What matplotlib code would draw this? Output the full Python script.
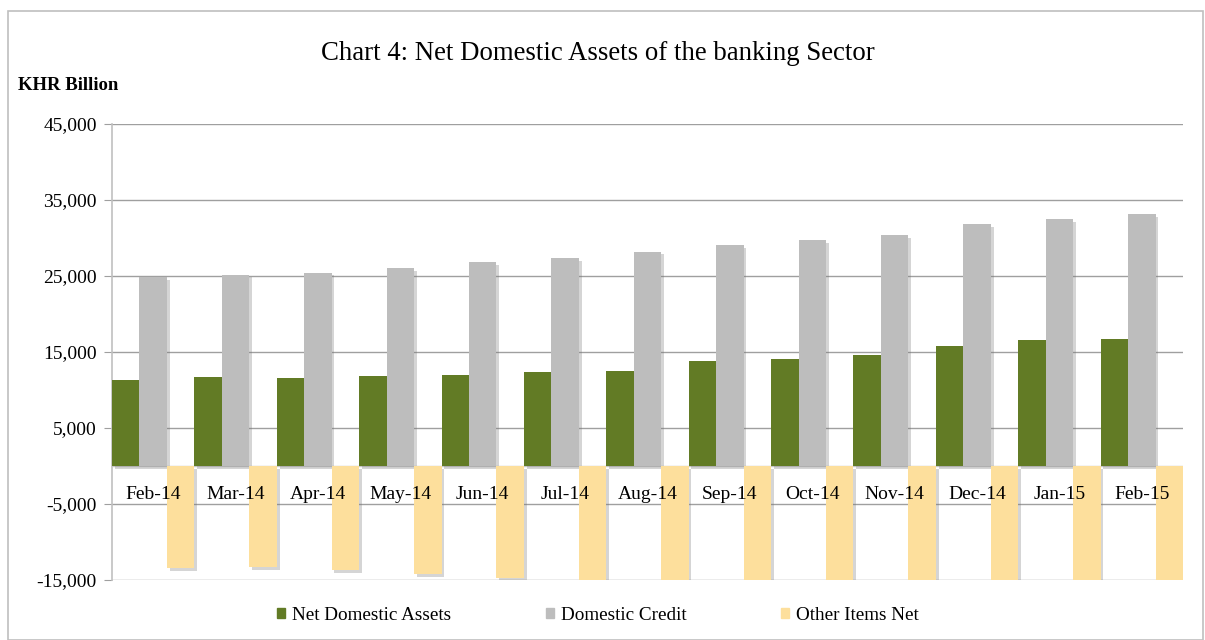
import numpy as np
import matplotlib
matplotlib.use("Agg")
import matplotlib.pyplot as plt
import matplotlib.patheffects as pe
from matplotlib.patches import Patch, Rectangle

plt.rcParams['font.family'] = ['Liberation Serif', 'DejaVu Serif']

# Data (KHR billion)
months = ["Feb-14", "Mar-14", "Apr-14", "May-14", "Jun-14", "Jul-14", "Aug-14",
          "Sep-14", "Oct-14", "Nov-14", "Dec-14", "Jan-15", "Feb-15"]
net_domestic_assets = [11370, 11680, 11590, 11810, 11950, 12340, 12470,
                       13820, 14120, 14560, 15740, 16560, 16690]
domestic_credit = [24870, 25180, 25450, 26050, 26800, 27330, 28210,
                   29040, 29700, 30360, 31840, 32460, 33120]
other_items_net = [-13410, -13330, -13720, -14200, -14720, -15050, -15740,
                   -15220, -15580, -15800, -16100, -15900, -16430]

green = "#627B25"
grey = "#BDBDBD"
yellow = "#FDDF9C"

fig = plt.figure(figsize=(12.05, 6.4), dpi=100)
ax = fig.add_axes([112 / 1205, 1 - 580 / 640, (1183 - 112) / 1205, 456 / 640])

x = np.arange(len(months))
w = 1 / 3
shadow = [pe.SimplePatchShadow(offset=(2, -2), shadow_rgbFace="#777777", alpha=0.3), pe.Normal()]

for vals, col, off in [(net_domestic_assets, green, -w), (domestic_credit, grey, 0), (other_items_net, yellow, w)]:
    bars = ax.bar(x + off, vals, width=w, color=col, zorder=3)
    for b in bars:
        b.set_path_effects(shadow)

ax.set_xlim(-0.5, len(months) - 0.5)
ax.set_ylim(-15000, 45000)
ax.set_yticks(np.arange(-15000, 45001, 10000))
ax.set_yticklabels([f"{v:,}" for v in range(-15000, 45001, 10000)], fontsize=14)
ax.yaxis.grid(True, color="#9F9F9F", linewidth=1.0, zorder=0)
ax.set_axisbelow(True)
ax.axhline(0, color="#C8C8C8", linewidth=1.0, zorder=2)
ax.tick_params(axis="y", length=6, color="#9F9F9F", pad=5)
ax.tick_params(axis="x", length=0, labelbottom=False)

for s in ["top", "right", "bottom"]:
    ax.spines[s].set_visible(False)
ax.spines["left"].set_color("#C0C0C0")
ax.spines["left"].set_linewidth(1.2)

# category labels sit just under the zero line, on top of the bars
for xi, m in zip(x, months):
    ax.text(xi, -3700, m, ha="center", va="center", fontsize=14, zorder=10)

fig.text(597.5 / 1205, 1 - 53 / 640, "Chart 4: Net Domestic Assets of the banking Sector",
         ha="center", va="center", fontsize=19.3)
fig.text(18 / 1205, 1 - 85 / 640, "KHR Billion", ha="left", va="center",
         fontsize=13.5, fontweight="bold")

handles = [Patch(color=green), Patch(color=grey), Patch(color=yellow)]
fig.legend(handles, ["Net Domestic Assets", "Domestic Credit", "Other Items Net"],
           loc="center", bbox_to_anchor=(598 / 1205, 1 - 615 / 640), ncol=3,
           frameon=False, fontsize=13.8, handlelength=0.42, handleheight=0.42,
           handletextpad=0.4, columnspacing=4.9, borderpad=0)

# outer chart frame
fig.patches.append(Rectangle((8 / 1205, 0), (1203 - 8) / 1205, 1 - 11 / 640,
                             transform=fig.transFigure, fill=False,
                             edgecolor="#BFBFBF", linewidth=1.2))

fig.savefig("out.png", dpi=100)
